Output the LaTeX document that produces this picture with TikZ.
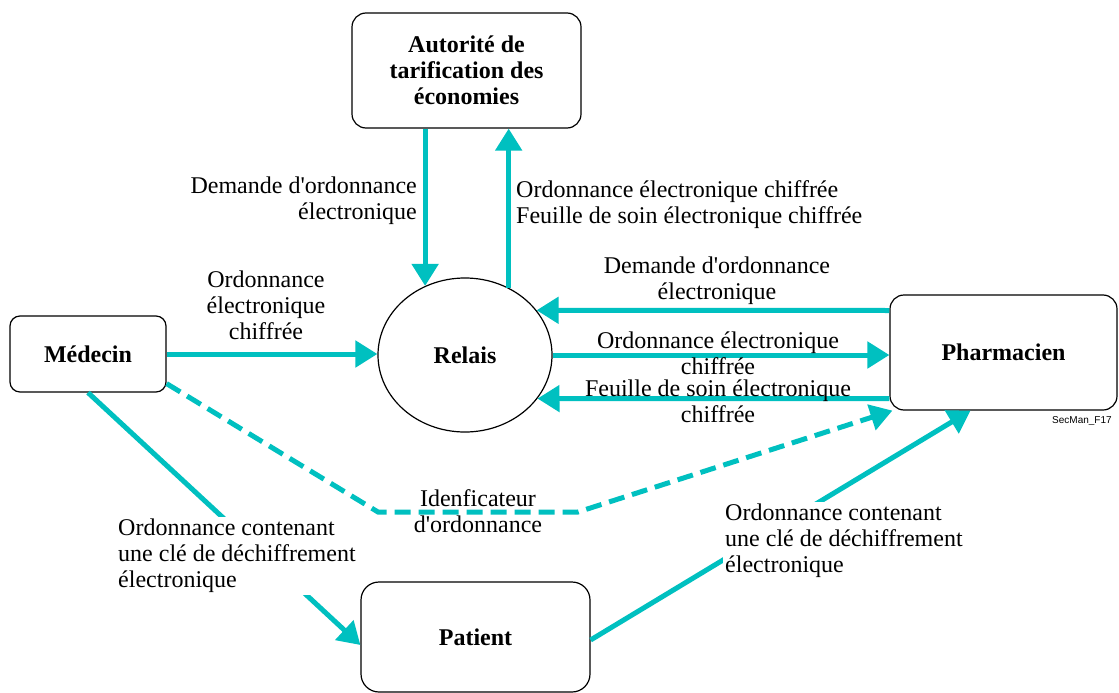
\documentclass[tikz,border=0pt]{standalone}
\usepackage{fontspec}
\setmainfont{Liberation Serif}
\newfontfamily\labsans{Liberation Sans}
\usetikzlibrary{arrows.meta,shapes.geometric}
\definecolor{flowcyan}{RGB}{0,192,192}
\newcommand\sq{\textquotesingle}
\begin{document}
\begin{tikzpicture}[x=1pt,y=-1pt,
  every node/.style={font=\fontsize{24}{26}\selectfont},
  box/.style={draw=black, line width=1.2pt, rounded corners=14pt, align=center, inner sep=0pt, font=\fontsize{24}{26}\selectfont\bfseries},
  arr/.style={draw=flowcyan, line width=5pt, -{Triangle[length=22pt,width=26pt]}},
  dasharr/.style={arr, dash pattern=on 16pt off 8pt},
  lab/.style={align=center, inner sep=2pt},
  whitelab/.style={align=left, inner sep=2pt, fill=white, anchor=west}]
\useasboundingbox (0,0) rectangle (1119,693);
\fill[white] (0,0) rectangle (1119,693);

% nodes
\node[box, minimum width=229pt, minimum height=115pt] (aut) at (466.5,70.5) {Autorité de\\tarification des\\économies};
\node[box, rounded corners=10pt, minimum width=156pt, minimum height=76pt] (med) at (88,354) {Médecin};
\node[draw=black, line width=1.2pt, ellipse, minimum width=174pt, minimum height=154pt, inner sep=0pt, font=\fontsize{24}{26}\selectfont\bfseries] (rel) at (465,355) {Relais};
\node[box, minimum width=227pt, minimum height=115pt] (pha) at (1003.5,352.5) {Pharmacien};
\node[box, rounded corners=18pt, minimum width=229pt, minimum height=110pt] (pat) at (475.5,637) {Patient};

% coordinates for the dashed path
\coordinate (d1) at (378,512);
\coordinate (d2) at (578,512);

% connectors
\draw[arr] (rel.120 |- aut.south) -- (rel.120);
\draw[arr] (rel.57) -- (rel.57 |- aut.south);
\draw[arr] (med.east) -- (med.east -| rel.west);
\draw[arr] ([yshift=42pt]pha.west) -- (rel.32);
\draw[arr] (rel.east) -- (rel.east -| pha.west);
\draw[arr] ([yshift=-46pt]pha.west) -- (rel.-31);
\draw[dasharr] ([yshift=9pt]med.south east) -- (d1) -- (d2) -- ([xshift=3pt]pha.south west);
\draw[arr] (med.south) -- ([yshift=-8pt]pat.west);
\draw[arr] ([yshift=-3pt]pat.east) -- ([xshift=-33pt]pha.south);

% labels
\node[lab, align=right, anchor=east] (l1) at (419,201) {Demande d\sq ordonnance\\électronique};
\node[lab, align=left, anchor=west] (l2) at (514,205) {Ordonnance électronique chiffrée\\Feuille de soin électronique chiffrée};
\node[lab] (l3) at (266,305) {Ordonnance\\électronique\\chiffrée};
\node[lab] (l4) at (717,281) {Demande d\sq ordonnance\\électronique};
\node[lab] (l5) at (718,353) {Ordonnance électronique\\chiffrée};
\node[lab] (l6) at (718,401) {Feuille de soin électronique\\chiffrée};
\node[lab] (l7) at (478,511) {Idenficateur\\d\sq ordonnance};
\node[whitelab] (l8) at (116,556) {Ordonnance contenant\\une clé de déchiffrement\\électronique};
\node[whitelab] (l9) at (723,541) {Ordonnance contenant\\une clé de déchiffrement\\électronique};
\node[anchor=west, inner sep=0pt, font=\labsans\fontsize{10}{12}\selectfont] (sec) at (1052,421) {SecMan\_F17};
\end{tikzpicture}
\end{document}
